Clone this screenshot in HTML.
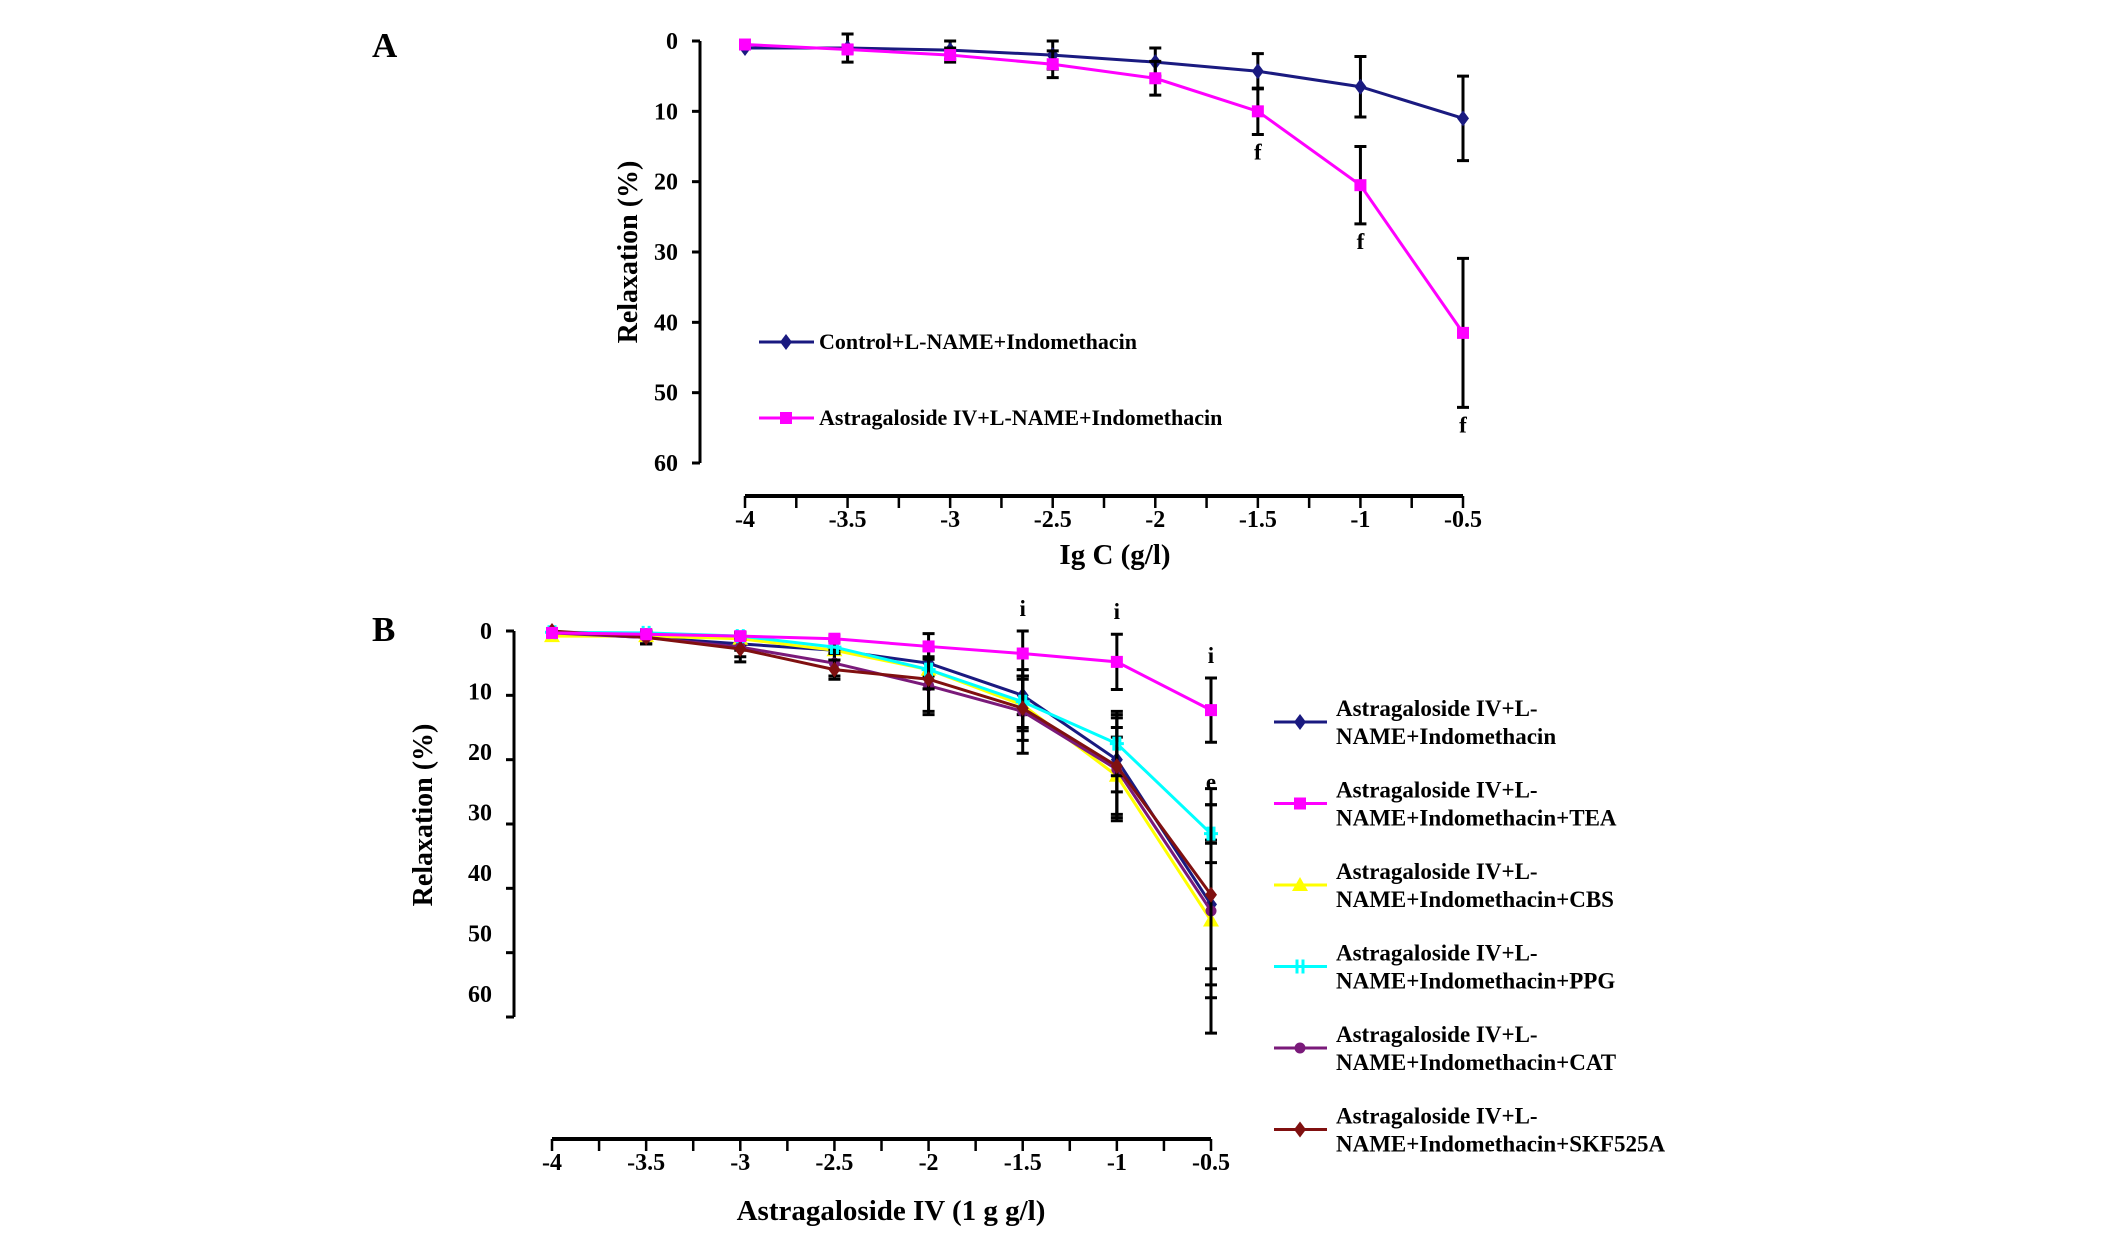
<!DOCTYPE html>
<html><head><meta charset="utf-8"><style>
body{margin:0;background:#fff;}
svg{display:block;font-family:"Liberation Serif",serif;font-weight:bold;}
</style></head><body>
<svg id="chart" width="2126" height="1239" viewBox="0 0 2126 1239" xmlns="http://www.w3.org/2000/svg"></svg>
<script>
const xCats = [-4,-3.5,-3,-2.5,-2,-1.5,-1,-0.5];
const xTickLabels = ["-4","-3.5","-3","-2.5","-2","-1.5","-1","-0.5"];
const yTickLabels = ["0","10","20","30","40","50","60"];
const aControl = [1,1,1.3,2,3,4.3,6.5,11];
const aControlErr = [0,2,1.3,2,2,2.5,4.3,6];
const aAstra = [0.5,1.2,2,3.3,5.3,10,20.5,41.5];
const aAstraErr = [0,0.5,1,1.9,2.4,3.3,5.5,10.6];
const aAstraNotes = ["","","","","","f","f","f"];
const bNames = ["Astragaloside IV+L-|NAME+Indomethacin","Astragaloside IV+L-|NAME+Indomethacin+TEA","Astragaloside IV+L-|NAME+Indomethacin+CBS","Astragaloside IV+L-|NAME+Indomethacin+PPG","Astragaloside IV+L-|NAME+Indomethacin+CAT","Astragaloside IV+L-|NAME+Indomethacin+SKF525A"];
const bBlue = [0.3,1,2,3,5,10,20,42.5];
const bTEA = [0.3,0.5,0.8,1.2,2.4,3.5,4.8,12.3];
const bCBS = [0.8,0.8,1.2,3,6,11.5,22.5,45];
const bPPG = [0.2,0.3,0.8,2.5,6,11,17.5,31.5];
const bCAT = [0.3,1,2.5,5,8.5,12.5,21.5,43.5];
const bSKF = [0,1,2.8,6,7.5,12,21,41];
const bBlueErr = [0,1,1,1.5,2,3,5,10];
const bTEAErr = [0,0.5,0.5,0.5,2,3.5,4.3,5];
const bCBSErr = [0,0.5,1,1.5,3,4,6,12];
const bPPGErr = [0,0.5,0.5,1,3,4,5,4.5];
const bCATErr = [0,1,1.5,2,4.5,6.5,8,19];
const bSKFErr = [0,1,2,1.5,5,5,8,14];
const bTEANotes = ["","","","","","i","i","i"];
const bPPGNotes = ["","","","","","","","e"];

const svg = document.getElementById('chart');
const NS = "http://www.w3.org/2000/svg";
function el(tag, attrs, parent){const e=document.createElementNS(NS,tag);for(const k in attrs)e.setAttribute(k,attrs[k]);(parent||svg).appendChild(e);return e;}
function txt(s, attrs, parent){const e=el('text',attrs,parent);e.textContent=s;return e;}

function marker(g, shape, cx, cy, color){
  let m;
  if(shape==='diamond') m=el('polygon',{points:`${cx},${cy-8} ${cx+6},${cy} ${cx},${cy+8} ${cx-6},${cy}`,fill:color},g);
  else if(shape==='square') m=el('rect',{x:cx-6,y:cy-6,width:12,height:12,fill:color},g);
  else if(shape==='triangle') m=el('polygon',{points:`${cx},${cy-8} ${cx+8},${cy+6} ${cx-8},${cy+6}`,fill:color},g);
  else if(shape==='star') m=el('path',{d:`M${cx-3},${cy-7}V${cy+7}M${cx+3},${cy-7}V${cy+7}M${cx-7},${cy}H${cx+7}`,stroke:color,'stroke-width':3},g);
  else m=el('circle',{cx:cx,cy:cy,r:5.5,fill:color},g);
  
  
}

function panel(cfg){
  const g = el('g',{});
  
  
  const X = v => cfg.x0 + (v-(-4))/3.5*(cfg.x1-cfg.x0);
  const Y = v => cfg.y0 + v/60*(cfg.y60-cfg.y0);
  const ya = el('line',{x1:cfg.yax,y1:cfg.y0,x2:cfg.yax,y2:cfg.y60,stroke:'#000','stroke-width':3},g);
   
  yTickLabels.forEach((t,i)=>{
    const v=+t;
    el('line',{x1:cfg.yax-8,y1:Y(v),x2:cfg.yax,y2:Y(v),stroke:'#000','stroke-width':3},g);
    const ly = cfg.labelY ? cfg.labelY(i) : Y(v);
    const tl=txt(t,{x:cfg.yax-22,y:ly+8,'text-anchor':'end','font-size':24},g);
     
  });
  const xa = el('line',{x1:cfg.x0,y1:cfg.xay,x2:cfg.x1,y2:cfg.xay,stroke:'#000','stroke-width':4},g);
   
  for(let v=-4; v<=-0.5+1e-9; v+=0.25){el('line',{x1:X(v),y1:cfg.xay,x2:X(v),y2:cfg.xay+12,stroke:'#000','stroke-width':2.5},g);}
  xTickLabels.forEach((t,i)=>{
    const tl=txt(t,{x:X(xCats[i]),y:cfg.xay+31,'text-anchor':'middle','font-size':24},g);
     
  });
  cfg.series.forEach(s=>{
    const sg=el('g',{},g);
    
    
    s.err.forEach((e,i)=>{
      if(e<=0) return;
      const x=X(xCats[i]);
      el('path',{d:`M${x},${Y(s.vals[i]-e)}V${Y(s.vals[i]+e)}M${x-6},${Y(s.vals[i]-e)}H${x+6}M${x-6},${Y(s.vals[i]+e)}H${x+6}`,stroke:'#000','stroke-width':3,fill:'none'},sg);
    });
    const pts=s.vals.map((v,i)=>X(xCats[i])+','+Y(v)).join(' ');
    const pl=el('polyline',{points:pts,fill:'none',stroke:s.color,'stroke-width':3},sg);
     
    s.vals.forEach((v,i)=>marker(sg,s.shape,X(xCats[i]),Y(v),s.color));
    if(s.notes) s.notes.forEach((n,i)=>{
      if(!n) return;
      const ny = s.noteAbove ? Y(s.vals[i]-s.err[i])-15 : Y(s.vals[i]+s.err[i])+25;
      const nt=txt(n,{x:X(xCats[i]),y:ny,'text-anchor':'middle','font-size':23},sg);
       
    });
  });
  return {g,X,Y};
}

const A = panel({name:'panel-a',yax:700,y0:41,y60:463,x0:745,x1:1463,xay:496,series:[
  {id:'series-control',vals:aControl,err:aControlErr,color:'#1a1a80',shape:'diamond'},
  {id:'series-astragaloside',vals:aAstra,err:aAstraErr,color:'#ff00ff',shape:'square',notes:aAstraNotes}
]});
let t;
t=txt('A',{x:372,y:57,'font-size':35});  
t=txt('Relaxation (%)',{x:0,y:0,'text-anchor':'middle','font-size':28,transform:'translate(637,252) rotate(-90)'});  
t=txt('Ig C (g/l)',{x:1115,y:564,'text-anchor':'middle','font-size':29});  
[['Control+L-NAME+Indomethacin','#1a1a80','diamond',342],['Astragaloside IV+L-NAME+Indomethacin','#ff00ff','square',418]].forEach(([n,c,s,y])=>{
  const lg=el('g',{});  
  el('line',{x1:759,y1:y,x2:814,y2:y,stroke:c,'stroke-width':3},lg);
  marker(lg,s,786,y,c);
  txt(n,{x:819,y:y+7,'font-size':22},lg);
});

const B = panel({name:'panel-b',yax:514,y0:631,y60:1017,x0:552,x1:1211,xay:1139,
  labelY:i=>631+i*60.5,
  series:[
  {id:'series-control-b',vals:bBlue,err:bBlueErr,color:'#1a1a80',shape:'diamond'},
  {id:'series-cbs',vals:bCBS,err:bCBSErr,color:'#ffff00',shape:'triangle'},
  {id:'series-cat',vals:bCAT,err:bCATErr,color:'#7a1a7a',shape:'circle'},
  {id:'series-ppg',vals:bPPG,err:bPPGErr,color:'#00ffff',shape:'star',notes:bPPGNotes,noteAbove:true},
  {id:'series-skf',vals:bSKF,err:bSKFErr,color:'#801010',shape:'diamond'},
  {id:'series-tea',vals:bTEA,err:bTEAErr,color:'#ff00ff',shape:'square',notes:bTEANotes,noteAbove:true}
]});
t=txt('B',{x:372,y:641,'font-size':35});  
t=txt('Relaxation (%)',{x:0,y:0,'text-anchor':'middle','font-size':28,transform:'translate(432,815) rotate(-90)'});  
t=txt('Astragaloside IV (1 g g/l)',{x:891,y:1220,'text-anchor':'middle','font-size':29});  
const bColors=['#1a1a80','#ff00ff','#ffff00','#00ffff','#7a1a7a','#801010'];
const bShapes=['diamond','square','triangle','star','circle','diamond'];
bNames.forEach((n,i)=>{
  const y=722+i*81.5;
  const lg=el('g',{});  
  el('line',{x1:1274,y1:y,x2:1327,y2:y,stroke:bColors[i],'stroke-width':3},lg);
  marker(lg,bShapes[i],1300,y,bColors[i]);
  const parts=n.split('|');
  txt(parts[0],{x:1336,y:y-6,'font-size':23},lg);
  txt(parts[1],{x:1336,y:y+22,'font-size':23},lg);
});
</script>
</body></html>
